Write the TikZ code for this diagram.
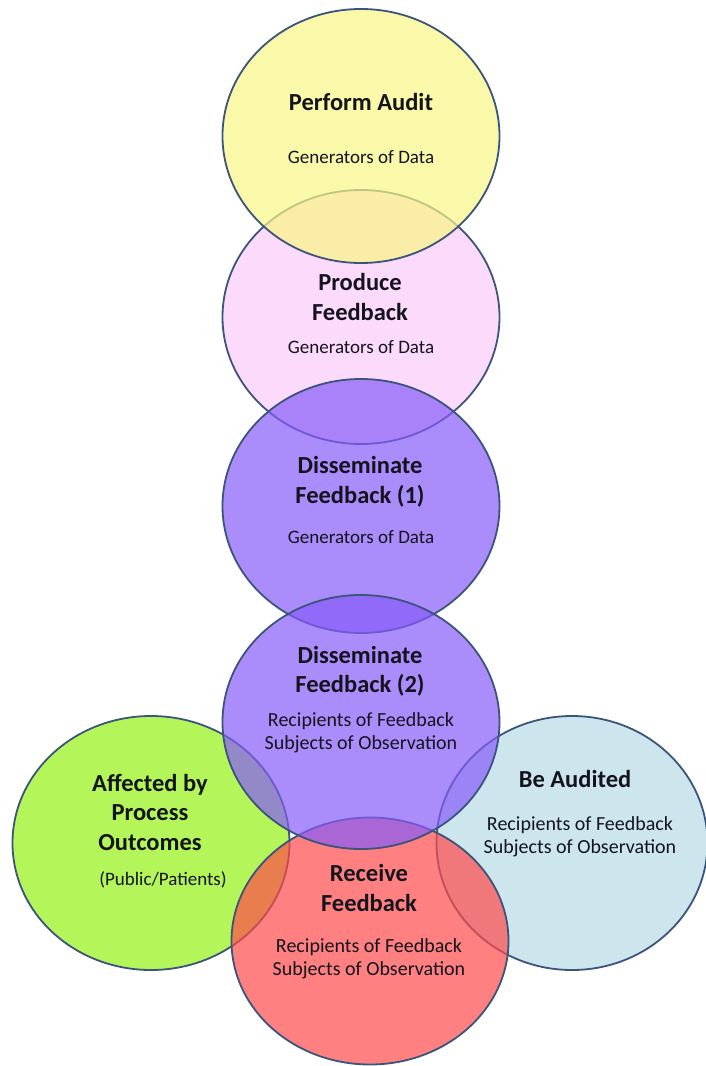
\documentclass[tikz,border=0pt]{standalone}
\usepackage{fontspec}
\setmainfont{Carlito}
\usetikzlibrary{shapes.geometric}
\definecolor{edgeblue}{RGB}{58,84,124}
\definecolor{cyellow}{RGB}{248,245,133}
\definecolor{cpink}{RGB}{251,202,251}
\definecolor{cpurple}{RGB}{134,91,248}
\definecolor{cgreen}{RGB}{148,241,19}
\definecolor{cblue}{RGB}{184,219,231}
\definecolor{cred}{RGB}{255,74,74}
\definecolor{txt}{RGB}{20,20,30}
\tikzset{
  blob/.style={ellipse, draw=edgeblue, line width=1.8pt, fill opacity=0.7, inner sep=0pt,
    minimum width=277pt, minimum height=254pt},
  title/.style={font=\fontsize{24.5}{29.5}\selectfont\bfseries, text=txt, align=center, inner sep=0pt},
  sub/.style={font=\fontsize{19}{23}\selectfont, text=txt, align=center, inner sep=0pt},
  subb/.style={font=\fontsize{20}{23}\selectfont, text=txt, align=center, inner sep=0pt}
}
\begin{document}
\begin{tikzpicture}[x=1pt,y=-1pt]
\useasboundingbox (0,0) rectangle (706,1066);
\clip (0,0) rectangle (706,1066);
% circles (back to front)
\node[blob, fill=cgreen] (affected) at (151,843) {};
\node[blob, fill=cblue, minimum width=271pt] (audited) at (572,843) {};
\node[blob, fill=cred, minimum height=247pt] (receive) at (370,941) {};
\node[blob, fill=cpink] (produce) at (361,317) {};
\node[blob, fill=cyellow] (perform) at (361,136) {};
\node[blob, fill=cpurple] (diss1) at (361,506) {};
\node[blob, fill=cpurple] (diss2) at (361,722) {};
% texts
\node[title] (t1) at (361,102) {Perform Audit};
\node[sub] (s1) at (361,157) {Generators of Data};
\node[title] (t2) at (360,297) {Produce\\Feedback};
\node[sub] (s2) at (361,347) {Generators of Data};
\node[title] (t3) at (360,482) {Disseminate\\Feedback (1)};
\node[sub] (s3) at (361,537) {Generators of Data};
\node[title] (t4) at (360,671) {Disseminate\\Feedback (2)};
\node[subb] (s4) at (361,733) {Recipients of Feedback\\Subjects of Observation};
\node[title] (t5) at (150,812) {Affected by\\Process\\Outcomes};
\node[sub] (s5) at (163,880) {(Public/Patients)};
\node[title] (t6) at (575,779) {Be Audited};
\node[subb] (s6) at (580,837) {Recipients of Feedback\\Subjects of Observation};
\node[title] (t7) at (369,888) {Receive\\Feedback};
\node[subb] (s7) at (369,959) {Recipients of Feedback\\Subjects of Observation};
\end{tikzpicture}
\end{document}
